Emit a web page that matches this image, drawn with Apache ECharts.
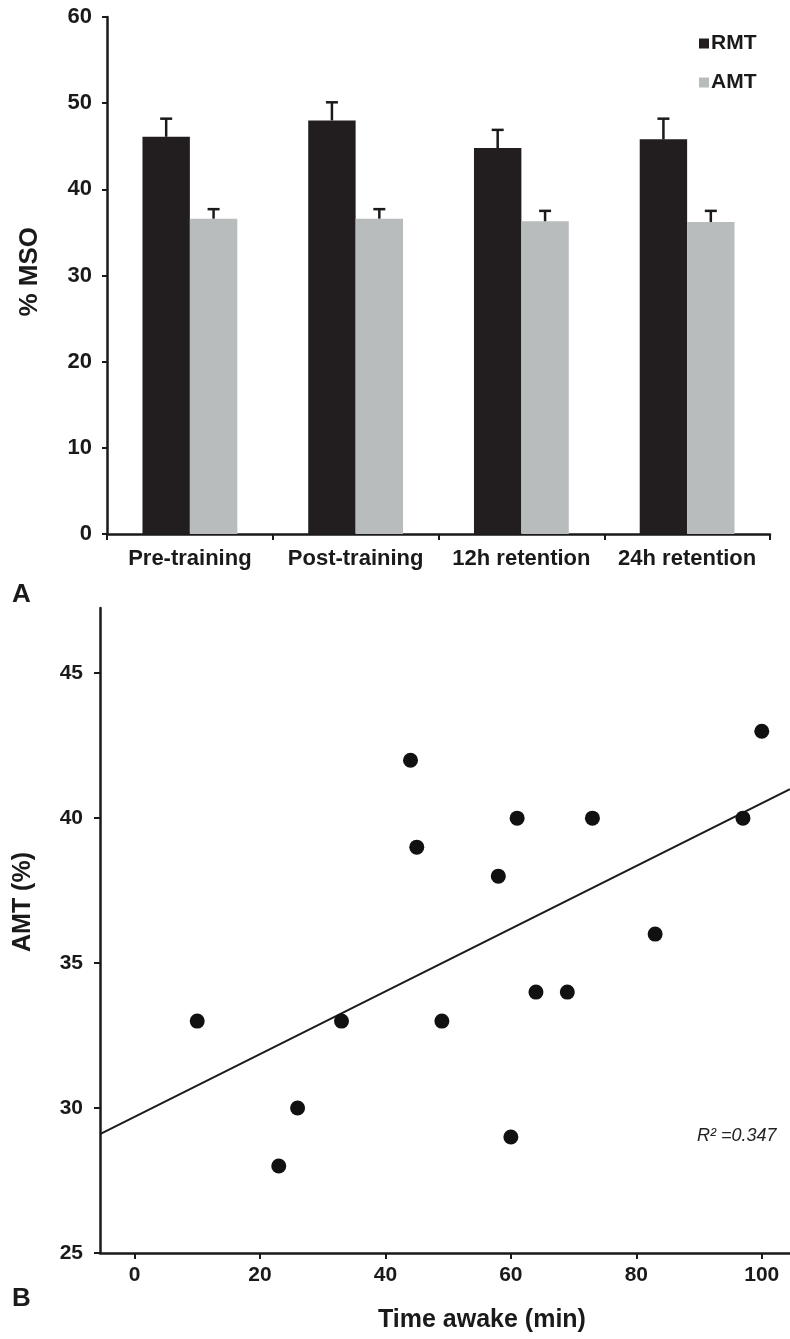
<!DOCTYPE html>
<html>
<head>
<meta charset="utf-8">
<script src="https://cdn.jsdelivr.net/npm/echarts@6/dist/echarts.min.js"></script>
<style>
html,body{margin:0;padding:0;background:#fff;}
#chart{width:790px;height:1339px;}
</style>
</head>
<body>
<div id="chart"></div>
<script>
// ---- Panel A data ----
var categories = ['Pre-training', 'Post-training', '12h retention', '24h retention'];
var rmtMeans = [46.1, 48.0, 44.8, 45.8];
var rmtErr   = [2.1, 2.1, 2.1, 2.4];
var amtMeans = [36.6, 36.6, 36.3, 36.2];
var amtErr   = [1.1, 1.1, 1.2, 1.3];
var yTicksA  = [0, 10, 20, 30, 40, 50, 60];

// ---- Panel B data ----
var timeAwake  = [10, 23, 26, 33, 44, 45, 49, 58, 60, 61, 64, 69, 73, 83, 97, 100];
var amtPercent = [33, 28, 30, 33, 42, 39, 33, 38, 29, 40, 34, 34, 40, 36, 40, 43];
var fitLineX   = [-5.5, 104.5];
var fitLineY   = [29.1, 41.0];
var xTicksB    = [0, 20, 40, 60, 80, 100];
var yTicksB    = [25, 30, 35, 40, 45];
var r2Text     = 'R\u00B2 =0.347';

var FONT = 'Liberation Sans, Arial, sans-serif';
var BAR_FRAC = 0.286;

function errData(means, errs) {
  return means.map(function (m, i) { return [i, m, errs[i]]; });
}
function errRender(sign) {
  return function (params, api) {
    var idx = api.value(0), val = api.value(1), err = api.value(2);
    var base = api.coord([idx, val]);
    var top = api.coord([idx, val + err]);
    var band = api.size([1, 0])[0];
    var x = base[0] + sign * band * BAR_FRAC / 2;
    var capHalf = 6;
    var st = { stroke: '#1a1a1a', lineWidth: 2.5 };
    return {
      type: 'group',
      children: [
        { type: 'line', shape: { x1: x, y1: base[1], x2: x, y2: top[1] }, style: st },
        { type: 'line', shape: { x1: x - capHalf, y1: top[1], x2: x + capHalf, y2: top[1] }, style: st }
      ]
    };
  };
}

var scatterData = timeAwake.map(function (t, i) { return [t, amtPercent[i]]; });
var fitData = fitLineX.map(function (x, i) { return [x, fitLineY[i]]; });

var axisLineStyle = { color: '#1a1a1a', width: 2.5 };
var tickLabel = { color: '#1a1a1a', fontFamily: FONT, fontWeight: 'bold', fontSize: 21 };

var chart = echarts.init(document.getElementById('chart'), null, { renderer: 'canvas' });
chart.setOption({
  backgroundColor: '#ffffff',
  animation: false,
  legend: {
    data: ['RMT', 'AMT'],
    orient: 'vertical',
    left: 694,
    top: 28,
    itemWidth: 10,
    itemHeight: 10,
    itemGap: 18,
    icon: 'rect',
    textStyle: { color: '#1a1a1a', fontFamily: FONT, fontWeight: 'bold', fontSize: 21, padding: [0, 0, 0, -3] },
    selectedMode: false
  },
  grid: [
    { left: 107, right: 20, top: 17, height: 517 },
    { left: 100, right: 0, top: 608, height: 645 }
  ],
  xAxis: [
    {
      gridIndex: 0,
      type: 'category',
      data: categories,
      axisLine: { lineStyle: axisLineStyle },
      axisTick: { show: true, length: 6, lineStyle: { color: '#1a1a1a', width: 2 } },
      axisLabel: { color: '#1a1a1a', fontFamily: FONT, fontWeight: 'bold', fontSize: 22, margin: 14, interval: 0 }
    },
    {
      gridIndex: 1,
      type: 'value',
      min: fitLineX[0],
      max: fitLineX[1],
      splitLine: { show: false },
      axisLine: { onZero: false, lineStyle: axisLineStyle },
      axisTick: { show: true, length: 6, lineStyle: { color: '#1a1a1a', width: 2 }, customValues: xTicksB },
      axisLabel: Object.assign({ margin: 12, customValues: xTicksB }, tickLabel)
    }
  ],
  yAxis: [
    {
      gridIndex: 0,
      type: 'value',
      min: 0,
      max: 60,
      interval: 10,
      splitLine: { show: false },
      axisLine: { show: true, lineStyle: axisLineStyle },
      axisTick: { show: true, length: 5, lineStyle: { color: '#1a1a1a', width: 2 } },
      axisLabel: Object.assign({ margin: 15, customValues: yTicksA }, tickLabel, { fontSize: 22 })
    },
    {
      gridIndex: 1,
      type: 'value',
      min: 25,
      max: 47.25,
      splitLine: { show: false },
      axisLine: { show: true, onZero: false, lineStyle: axisLineStyle },
      axisTick: { show: true, length: 6, lineStyle: { color: '#1a1a1a', width: 2 }, customValues: yTicksB },
      axisLabel: Object.assign({ margin: 17, customValues: yTicksB }, tickLabel)
    }
  ],
  series: [
    {
      name: 'RMT', type: 'bar', xAxisIndex: 0, yAxisIndex: 0,
      data: rmtMeans, barWidth: (BAR_FRAC * 100) + '%', barGap: '0%',
      itemStyle: { color: '#221e1f' }
    },
    {
      name: 'AMT', type: 'bar', xAxisIndex: 0, yAxisIndex: 0,
      data: amtMeans, barWidth: (BAR_FRAC * 100) + '%', barGap: '0%',
      itemStyle: { color: '#b8bcbc' }
    },
    {
      name: 'RMT err', type: 'custom', xAxisIndex: 0, yAxisIndex: 0, z: 5,
      data: errData(rmtMeans, rmtErr), encode: { x: 0, y: 1 },
      renderItem: errRender(-1)
    },
    {
      name: 'AMT err', type: 'custom', xAxisIndex: 0, yAxisIndex: 0, z: 5,
      data: errData(amtMeans, amtErr), encode: { x: 0, y: 1 },
      renderItem: errRender(1)
    },
    {
      name: 'Fit', type: 'line', xAxisIndex: 1, yAxisIndex: 1,
      data: fitData, showSymbol: false, symbol: 'none',
      lineStyle: { color: '#1a1a1a', width: 2 }, z: 2
    },
    {
      name: 'Subjects', type: 'scatter', xAxisIndex: 1, yAxisIndex: 1,
      data: scatterData, symbol: 'circle', symbolSize: 15,
      itemStyle: { color: '#111111', opacity: 1 }, z: 3
    }
  ],
  graphic: [
    { type: 'text', left: 17, top: 227, rotation: Math.PI / 2,
      style: { text: '% MSO', fill: '#1a1a1a', font: 'bold 26px ' + FONT } },
    { type: 'text', left: 12, top: 582,
      style: { text: 'A', fill: '#1a1a1a', font: 'bold 26px ' + FONT } },
    { type: 'text', left: 11, top: 852, rotation: Math.PI / 2,
      style: { text: 'AMT (%)', fill: '#1a1a1a', font: 'bold 25px ' + FONT } },
    { type: 'text', left: 12, top: 1286,
      style: { text: 'B', fill: '#1a1a1a', font: 'bold 26px ' + FONT } },
    { type: 'text', left: 378, top: 1308,
      style: { text: 'Time awake (min)', fill: '#1a1a1a', font: 'bold 25px ' + FONT } },
    { type: 'text', left: 697, top: 1127,
      style: { text: r2Text, fill: '#222222', font: 'italic 18px ' + FONT } }
  ]
});
</script>
</body>
</html>
